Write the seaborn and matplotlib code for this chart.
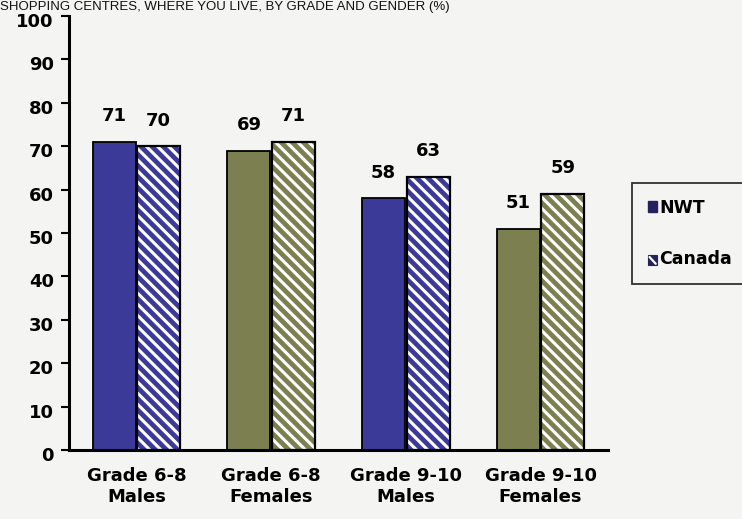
import matplotlib
matplotlib.use("Agg")
import matplotlib.pyplot as plt
import matplotlib.transforms as mtransforms
from matplotlib.lines import Line2D
import seaborn as sns
import pandas as pd
from matplotlib.patches import Patch, Rectangle

categories = ["Grade 6-8\nMales", "Grade 6-8\nFemales", "Grade 9-10\nMales", "Grade 9-10\nFemales"]
series = ["NWT", "Canada"]
nwt = [71, 69, 58, 51]
canada = [70, 71, 63, 59]
yticks = list(range(0, 101, 10))
title = "SHOPPING CENTRES, WHERE YOU LIVE, BY GRADE AND GENDER (%)"

blue = "#3c3a98"
green = "#7c7f4f"
dark = "#24235e"
cat_colors = [blue, green, blue, green]

sns.set_theme(style="white")
plt.rcParams["font.family"] = ["DejaVu Sans"]
plt.rcParams["hatch.linewidth"] = 2.2
plt.rcParams["text.color"] = "black"
plt.rcParams["xtick.color"] = "black"
plt.rcParams["ytick.color"] = "black"

df = pd.DataFrame({
    "cat": categories * 2,
    "series": [series[0]] * 4 + [series[1]] * 4,
    "value": nwt + canada,
})

bg = "#f4f4f2"
fig = plt.figure(figsize=(7.42, 5.19), dpi=100, facecolor=bg)
ax = fig.add_axes([69 / 742, 1 - 450 / 519, 539 / 742, 434 / 519])
ax.set_facecolor(bg)

sns.barplot(data=df, x="cat", y="value", hue="series", order=categories,
            hue_order=series, width=0.66, gap=0.03, ax=ax, legend=False,
            errorbar=None)

for i, bar in enumerate(ax.containers[0]):
    bar.set_facecolor(cat_colors[i])
    bar.set_edgecolor("black")
    bar.set_linewidth(1.3)
for i, bar in enumerate(ax.containers[1]):
    bar.set_facecolor(cat_colors[i])
    bar.set_edgecolor("white")
    bar.set_hatch("\\\\\\")
    bar.set_linewidth(0)
    ax.add_patch(Rectangle(bar.get_xy(), bar.get_width(), bar.get_height(),
                           fill=False, edgecolor="black", linewidth=1.6,
                           zorder=bar.get_zorder() + 0.1))

for cont in ax.containers:
    ax.bar_label(cont, padding=12, fontsize=13, fontweight="bold", color="black")

ax.set_ylim(0, 100)
ax.set_xlim(-0.5, 3.5)
ax.set_yticks(yticks)
ax.set_yticklabels([str(t) for t in yticks], fontsize=13, fontweight="bold")
ax.set_xticks(range(len(categories)))
ax.set_xticklabels(categories, fontsize=13, fontweight="bold", linespacing=1.25)
ax.tick_params(axis="x", which="major", length=0, pad=12)
ax.set_xticks([-0.5, 0.5, 1.5, 2.5, 3.5], minor=True)
ax.tick_params(axis="x", which="minor", length=5, width=1.5, direction="out", color="black")
ax.tick_params(axis="y", length=6, width=1.5, direction="out", color="black", left=True, pad=5)
ax.set_xlabel("")
ax.set_ylabel("")
for s in ["top", "right"]:
    ax.spines[s].set_visible(False)
for s in ["left", "bottom"]:
    ax.spines[s].set_color("black")
    ax.spines[s].set_linewidth(2.2)

shift = mtransforms.ScaledTranslation(0, -4 / 100, fig.dpi_scale_trans)
for tick in ax.yaxis.get_major_ticks():
    tick.label1.set_transform(tick.label1.get_transform() + shift)


class HatchSquareHandler:
    def legend_artist(self, legend, orig_handle, fontsize, handlebox):
        x0, y0 = handlebox.xdescent, handlebox.ydescent
        w, h = handlebox.width, handlebox.height
        sq = Rectangle((x0, y0), w, h, facecolor=dark, edgecolor=dark, linewidth=0.8,
                       transform=handlebox.get_transform())
        ln = Line2D([x0 + 0.2 * w, x0 + 0.85 * w], [y0 + 0.8 * h, y0 + 0.15 * h],
                    color="white", linewidth=1.6, transform=handlebox.get_transform())
        handlebox.add_artist(sq)
        handlebox.add_artist(ln)
        return sq


h_nwt = Patch(facecolor=dark, edgecolor=dark, label=series[0])
h_can = Patch(facecolor=dark, edgecolor=dark, label=series[1])
leg = fig.legend(handles=[h_nwt, h_can], loc="upper left",
                 bbox_to_anchor=(632 / 742, 1 - 183 / 519),
                 handler_map={h_can: HatchSquareHandler()},
                 frameon=True, fancybox=False, edgecolor="black", facecolor=bg,
                 prop={"weight": "bold", "size": 12.5}, handlelength=0.55, handleheight=0.55,
                 handletextpad=0.1, labelspacing=1.95, borderpad=0.9, borderaxespad=0)
leg.get_frame().set_linewidth(1.3)

fig.text(0.0, 1 - 10 / 519, title, fontsize=9.5,
         family=["Liberation Sans Narrow", "Liberation Sans", "DejaVu Sans"],
         ha="left", va="baseline", color="#111111")

fig.savefig("out.png", dpi=100, facecolor=bg)
